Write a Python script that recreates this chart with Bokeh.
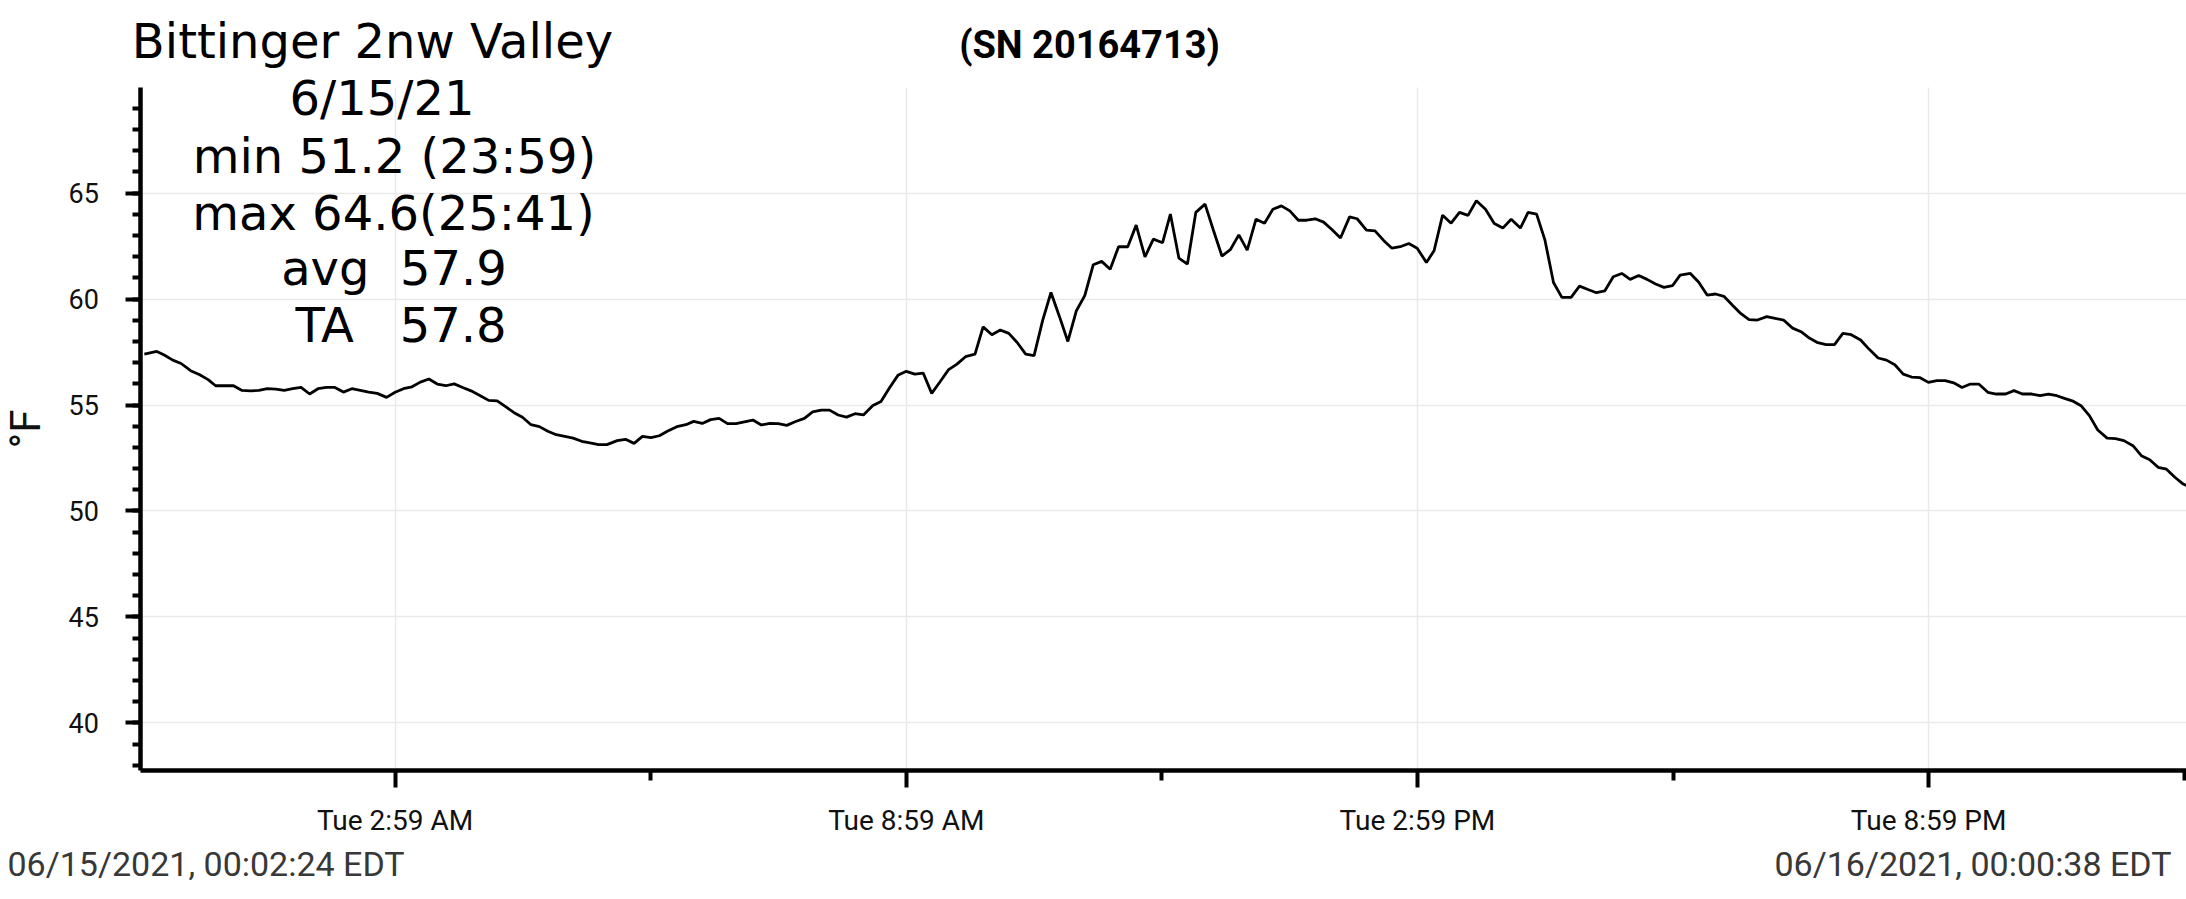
from bokeh.plotting import figure
from bokeh.models import Range1d, FixedTicker, Label, Grid
from bokeh.embed import file_html
from bokeh.resources import INLINE

# ---- data: minutes after midnight (06/15/2021, EDT) and temperature in °F ----
night_min = [2.4, 11.2, 16.4, 22.4, 28.3, 35.0, 41.4, 47.3, 52.6, 58.8, 65.2, 71.2, 77.1, 83.1,
             89.0, 95.0, 100.9, 106.9, 112.8, 118.8, 124.7, 130.7, 136.6, 142.6, 148.5, 154.5,
             160.4, 166.4, 173.0, 179.0, 184.9, 190.9, 196.8, 202.8, 208.7, 214.7, 220.6, 226.6,
             232.5, 239.0, 244.9, 250.9, 256.8, 262.8, 268.7, 274.7, 280.6, 286.6, 292.5, 298.5,
             304.4, 310.4, 316.3, 322.3, 328.2, 335.4, 341.3, 347.3, 353.2, 359.2, 365.1]
night_temp = [57.40, 57.53, 57.36, 57.12, 56.96, 56.62, 56.43, 56.20, 55.91, 55.91, 55.91, 55.69,
              55.67, 55.69, 55.77, 55.75, 55.69, 55.77, 55.83, 55.52, 55.77, 55.83, 55.83, 55.61,
              55.77, 55.69, 55.61, 55.55, 55.36, 55.60, 55.77, 55.86, 56.08, 56.23, 55.99, 55.91,
              56.00, 55.83, 55.67, 55.44, 55.22, 55.20, 54.92, 54.64, 54.42, 54.07, 53.98, 53.76,
              53.60, 53.52, 53.44, 53.29, 53.21, 53.13, 53.13, 53.32, 53.38, 53.19, 53.52, 53.46,
              53.55]

morning_min = [370.7, 377.4, 383.8, 389.3, 395.3, 401.2, 407.2, 413.1, 419.1, 425.0, 431.0, 436.9,
               442.9, 448.8, 454.8, 460.7, 467.2, 473.1, 479.1, 485.0, 491.0, 496.9, 502.9, 508.8,
               515.5, 521.2, 527.1, 533.1, 539.0, 545.0, 550.9, 556.9, 562.8, 568.8, 574.7, 580.7,
               587.4, 593.1, 599.3, 605.2, 611.2, 617.1, 623.1, 629.0, 635.0, 640.9, 646.9, 652.8,
               658.8, 664.7, 670.7, 676.6, 682.6, 688.5, 695.0, 700.9, 707.1, 713.0, 719.5, 725.0]
morning_temp = [53.76, 53.98, 54.07, 54.23, 54.13, 54.31, 54.37, 54.12, 54.12, 54.21, 54.29, 54.06,
                54.13, 54.12, 54.04, 54.21, 54.37, 54.68, 54.76, 54.76, 54.53, 54.43, 54.59, 54.53,
                54.98, 55.17, 55.80, 56.40, 56.59, 56.46, 56.51, 55.55, 56.10, 56.67, 56.93, 57.28,
                57.40, 58.69, 58.32, 58.54, 58.38, 57.95, 57.40, 57.33, 58.98, 60.31, 59.17, 58.00,
                59.45, 60.16, 61.62, 61.78, 61.41, 62.47, 62.47, 63.49, 61.99, 62.83, 62.66, 64.01]

afternoon_min = [731.0, 737.0, 742.9, 749.4, 755.3, 761.3, 767.2, 773.2, 779.1, 785.3, 791.3, 797.2,
                 803.2, 809.1, 815.1, 821.0, 827.0, 832.9, 838.9, 844.8, 851.2, 856.5, 863.1, 869.1,
                 875.0, 881.0, 886.9, 892.9, 898.8, 905.3, 910.7, 916.7, 922.7, 928.6, 934.6, 940.5,
                 946.9, 953.1, 959.1, 965.0, 971.5, 976.9, 982.9, 988.8, 994.8, 1000.7, 1007.2,
                 1013.1, 1019.1, 1025.0, 1031.0, 1036.9, 1042.9, 1048.8, 1054.8, 1060.7, 1066.7,
                 1072.6, 1078.6, 1084.0]
afternoon_temp = [61.93, 61.65, 64.09, 64.48, 63.25, 62.03, 62.33, 63.03, 62.31, 63.77, 63.58, 64.24,
                  64.40, 64.16, 63.72, 63.72, 63.79, 63.63, 63.27, 62.88, 63.88, 63.79, 63.25, 63.22,
                  62.78, 62.40, 62.47, 62.62, 62.40, 61.73, 62.28, 63.96, 63.58, 64.09, 63.95, 64.64,
                  64.24, 63.57, 63.35, 63.77, 63.35, 64.09, 64.01, 62.78, 60.78, 60.08, 60.08, 60.61,
                  60.45, 60.30, 60.39, 61.05, 61.21, 60.93, 61.11, 60.93, 60.71, 60.55, 60.63, 61.13]

evening_min = [1091.2, 1097.1, 1103.0, 1108.9, 1114.8, 1120.7, 1126.6, 1132.5, 1138.4, 1145.0,
               1150.9, 1156.8, 1163.2, 1169.1, 1175.0, 1180.9, 1186.8, 1192.7, 1198.6, 1204.5,
               1211.1, 1217.0, 1223.4, 1229.3, 1235.2, 1241.1, 1247.0, 1253.0, 1258.8, 1264.8,
               1270.7, 1276.6, 1282.5, 1288.4, 1294.3, 1300.7, 1306.6, 1313.2, 1319.1, 1325.0,
               1331.6, 1337.5, 1343.4, 1349.3, 1355.2, 1361.1, 1366.3, 1372.2, 1378.1, 1384.7,
               1390.6, 1396.5, 1402.9, 1408.8, 1414.7, 1420.6, 1426.5, 1432.4, 1438.3, 1440.6]
evening_temp = [61.21, 60.79, 60.19, 60.24, 60.13, 59.72, 59.32, 59.03, 59.01, 59.17, 59.09, 59.01,
                58.63, 58.46, 58.16, 57.94, 57.85, 57.85, 58.38, 58.32, 58.07, 57.64, 57.22, 57.12,
                56.90, 56.46, 56.32, 56.29, 56.07, 56.15, 56.15, 56.05, 55.83, 55.99, 55.99, 55.60,
                55.52, 55.52, 55.68, 55.52, 55.52, 55.44, 55.52, 55.44, 55.30, 55.17, 54.97, 54.50,
                53.82, 53.44, 53.41, 53.32, 53.08, 52.61, 52.42, 52.06, 51.97, 51.59, 51.27, 51.20]

minutes = night_min + morning_min + afternoon_min + evening_min
temp_f = night_temp + morning_temp + afternoon_temp + evening_temp

x_tick_minutes = [179, 539, 899, 1259]
x_tick_labels = ["Tue 2:59 AM", "Tue 8:59 AM", "Tue 2:59 PM", "Tue 8:59 PM"]
x_minor_minutes = [359, 719, 1079, 1439]
x_axis_bounds = (0.0, 1440.6)
y_ticks = [40, 45, 50, 55, 60, 65]
y_minor_ticks = list(range(38, 70))
y_axis_bounds = (37.75, 70.0)

station = "Bittinger 2nw Valley"
date_text = "6/15/21"
min_text = "min 51.2 (23:59)"
max_text = "max 64.6(25:41)"
avg_text = "avg\u00a0\u00a057.9"
ta_text = "TA\u00a0\u00a0\u00a057.8"
serial_text = "(SN 20164713)"
start_text = "06/15/2021, 00:02:24 EDT"
end_text = "06/16/2021, 00:00:38 EDT"

# ---- one figure whose frame fills the page; the axes sit at fixed data locations ----
p = figure(width=2186, height=890, output_backend="svg", toolbar_location=None, title=None,
           x_range=Range1d(-98.9, x_axis_bounds[1]), y_range=Range1d(32.09, 74.09),
           min_border_left=0, min_border_right=0, min_border_top=0, min_border_bottom=0)
p.outline_line_color = None
p.background_fill_color = "white"
p.border_fill_color = "white"

p.line(minutes, temp_f, line_color="black", line_width=2.8)

xa = p.xaxis[0]
ya = p.yaxis[0]
xa.fixed_location = y_axis_bounds[0]
ya.fixed_location = x_axis_bounds[0]
xa.bounds = x_axis_bounds
ya.bounds = y_axis_bounds
xa.ticker = FixedTicker(ticks=x_tick_minutes, minor_ticks=x_minor_minutes)
xa.major_label_overrides = {t: l for t, l in zip(x_tick_minutes, x_tick_labels)}
ya.ticker = FixedTicker(ticks=y_ticks, minor_ticks=y_minor_ticks)

for ax in (xa, ya):
    ax.axis_line_color = "black"
    ax.axis_line_width = 4.5
    ax.major_tick_line_color = "black"
    ax.minor_tick_line_color = "black"
    ax.major_tick_line_width = 4
    ax.minor_tick_line_width = 4
    ax.major_tick_in = 0
    ax.minor_tick_in = 0
    ax.major_label_text_font = "Roboto"
    ax.major_label_text_color = "#111111"

xa.major_tick_out = 17
xa.minor_tick_out = 10
xa.major_label_text_font_size = "28px"
xa.major_label_standoff = 16

ya.major_tick_out = 15
ya.minor_tick_out = 8
ya.major_label_text_font_size = "27px"
ya.major_label_standoff = 27
ya.axis_label = "°F"
ya.axis_label_text_font = "Roboto"
ya.axis_label_text_font_size = "42px"
ya.axis_label_text_font_style = "normal"
ya.axis_label_text_color = "#111111"
ya.axis_label_standoff = 15

grid_color = "#e9e9e9"
xg = p.xgrid[0]
yg = p.ygrid[0]
if "cross_bounds" in Grid.properties():
    for g, cb in ((xg, y_axis_bounds), (yg, x_axis_bounds)):
        g.cross_bounds = cb
        g.grid_line_color = grid_color
        g.grid_line_width = 1.5
else:
    xg.visible = False
    yg.visible = False
    p.segment(x0=x_tick_minutes, x1=x_tick_minutes,
              y0=[y_axis_bounds[0]] * len(x_tick_minutes),
              y1=[y_axis_bounds[1]] * len(x_tick_minutes),
              line_color=grid_color, line_width=1.5, level="underlay")
    p.segment(x0=[x_axis_bounds[0]] * len(y_ticks), x1=[x_axis_bounds[1]] * len(y_ticks),
              y0=y_ticks, y1=y_ticks,
              line_color=grid_color, line_width=1.5, level="underlay")


def add_text(txt, x, y, font, size, style="normal", color="black", align="center"):
    p.add_layout(Label(x=x, y=y, x_units="canvas", y_units="canvas", text=txt,
                       text_font=font, text_font_size=size, text_font_style=style,
                       text_color=color, text_align=align, text_baseline="middle"))


big_font = "DejaVu Sans"
add_text(station, 372, 40.5, big_font, "48px")
add_text(date_text, 381.5, 97, big_font, "48px")
add_text(min_text, 394, 155, big_font, "48px")
add_text(max_text, 393, 212, big_font, "48px")
add_text(avg_text, 393.5, 267, big_font, "48px")
add_text(ta_text, 400.5, 324, big_font, "48px")
add_text(serial_text, 1089, 44.5, "Roboto", "38px", style="bold")
add_text(start_text, 7, 863, "Roboto", "34px", color="#383838", align="left")
add_text(end_text, 2171, 863, "Roboto", "34px", color="#383838", align="right")

open("out.html", "w").write(file_html(p, INLINE))
